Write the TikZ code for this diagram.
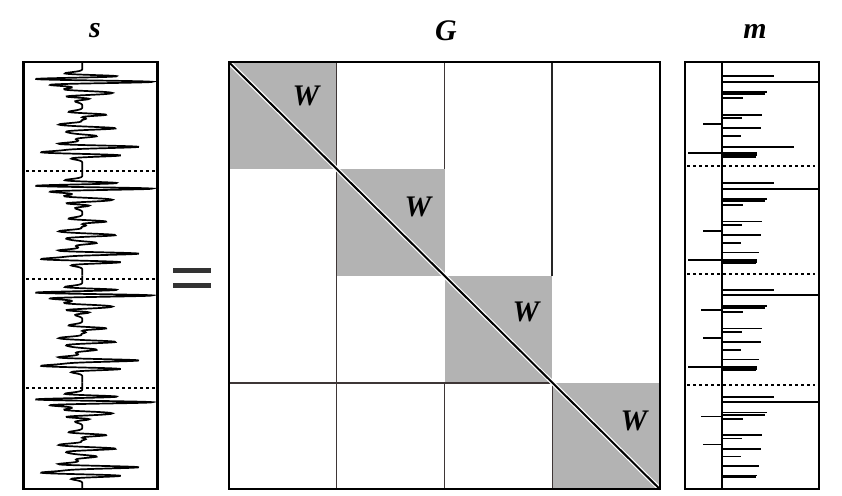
\documentclass[tikz,border=0pt]{standalone}
\usepackage{fontspec}
\setmainfont{Liberation Serif}
\usepackage{xcolor}
\usetikzlibrary{positioning,calc}
\definecolor{blockgray}{RGB}{179,179,179}
\definecolor{gridgray}{RGB}{62,54,54}
\definecolor{eqgray}{RGB}{51,51,51}

\begin{document}
\begin{tikzpicture}[x=1bp,y=-1bp,
    declare function={rk(\t)=(1-2*min(0.16*(\t)*(\t),9))*exp(-min(0.16*(\t)*(\t),9));
      strace(\t)=0.76*(52*rk(\t)+96*rk(\t-5.4)+45*rk(\t-15.7)+43*rk(\t-18)+21*rk(\t-22)
        +40*rk(\t-38.4)+20*rk(\t-41.7)-19*rk(\t-47.7)+39*rk(\t-52)+19*rk(\t-59.7)
        +72*rk(\t-70.4)-34*rk(\t-76)+35*rk(\t-79));},
    lbl/.style={font=\fontsize{30}{30}\selectfont\bfseries\itshape, inner sep=0pt},
    frame/.style={draw=black, line width=2.3bp},
    sep/.style={black, line width=2.4bp, dash pattern=on 2.6bp off 3.4bp},
    spike/.style={black, line width=1.8bp},
    gridline/.style={gridgray, line width=1.3bp}]
    \useasboundingbox (0,0) rectangle (842,496);

    % Signal
    \node[lbl] (slab) at (95,31) {s};
    \foreach \ya in {76.4,183.2,290.0,396.8}
        \draw[black, line width=1.7bp] plot[variable=\u, domain=-14.1:92.5, samples=220, smooth]
            ({83+strace(\u)}, {\ya+\u});
    \foreach \yd in {171,279,388}
        \draw[sep] (26,\yd) -- (155,\yd);
    \coordinate (Stl) at (23.5,62.3);
    \coordinate (Sbr) at (157.5,489.3);
    \draw[frame] (Stl) rectangle (Sbr);

    % equals
    \fill[eqgray] (173,268.3) rectangle (211,272.9);
    \fill[eqgray] (173,283.3) rectangle (211,288.3);

    % Matrix
    \node[lbl] (glab) at (446,31) {G};
    \coordinate (Gtl) at (229,62.3);
    \coordinate (Gbr) at (660,489.3);
    \foreach \i in {0,1,2,3}
        \fill[blockgray] ($(Gtl)+(107.75*\i,106.75*\i)$) rectangle ++(107.75,106.75);
    \draw[gridline] (336.75,62.3) -- (336.75,489.3);
    \draw[gridline] (444.5,62.3) -- (444.5,169);
    \draw[gridline] (444.5,383) -- (444.5,489.3);
    \draw[gridline, line width=2bp, black!85] (552.25,62.3) -- (552.25,275.8);
    \draw[gridline] (552.25,383) -- (552.25,489.3);
    \draw[gridline] (229,383) -- (552.25,383);
    \draw[white, line width=4.4bp] (Gtl) -- (Gbr);
    \draw[black, line width=2bp] (Gtl) -- (Gbr);
    \draw[frame] (Gtl) rectangle (Gbr);
    \node[lbl] (w1) at (306,96) {W};
    \node[lbl] (w2) at (418,207) {W};
    \node[lbl] (w3) at (526,312) {W};
    \node[lbl] (w4) at (634,421) {W};

    % Model
    \node[lbl] (mlab) at (755,31) {m};
    \draw[black, line width=1.6bp] (721.7,62.3) -- (721.7,489.3);
    \foreach \ya/\j in {76.4/0,183.2/1,290.0/2,396.8/3} {
        \foreach \o/\a in {0/52,15.7/45,18/43,22/21,38.4/40,41.7/20,47.7/-19,52/39,59.7/19,78.7/35,80.4/34}
            \draw[spike] (721.7,\ya+\o) -- ++(\a,0);
        \draw[spike, line width=2bp] (721.7,\ya+5.4) -- (818.5,\ya+5.4);
        \ifnum\j=0 \draw[spike] (721.7,\ya+70.4) -- ++(72,0);
        \else \draw[spike] (721.7,\ya+69.4) -- ++(37,0); \fi
        \ifnum\j<3 \draw[spike] (721.7,\ya+77) -- ++(-34,0) (721.7,\ya+77) -- ++(35,0); \fi
        \ifnum\j>1 \draw[spike] (721.7,\ya+19.7) -- ++(-21,0); \fi
    }
    \foreach \yd in {166,274.3,384.7}
        \draw[sep] (687,\yd) -- (815,\yd);
    \draw[frame] (685,62.3) rectangle (818.7,489.3);
\end{tikzpicture}
\end{document}
